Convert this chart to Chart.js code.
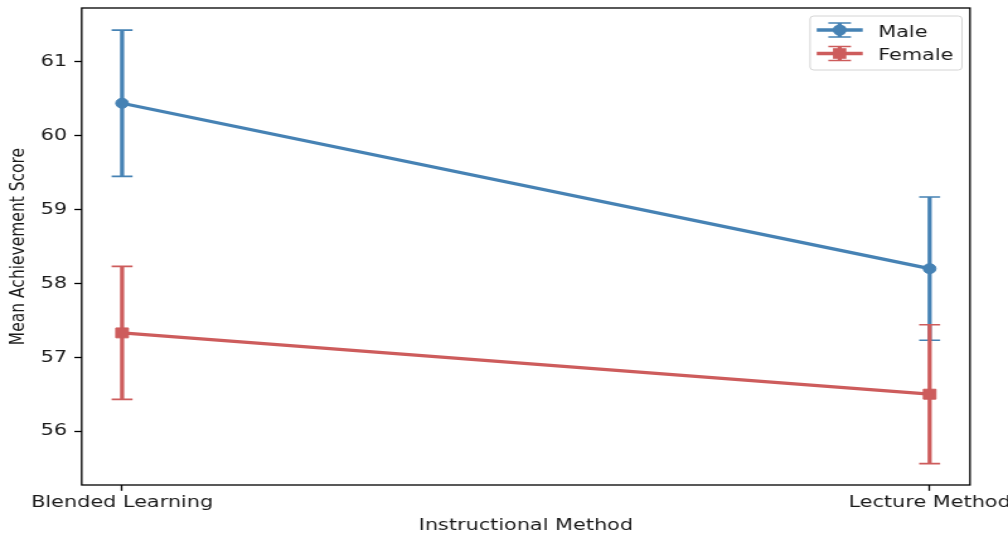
<!DOCTYPE html>
<html>
<head>
<meta charset="utf-8">
<script src="https://cdn.jsdelivr.net/npm/chart.js@4.4.1/dist/chart.umd.min.js"></script>
<style>
  html, body { margin: 0; padding: 0; background: #fff; overflow: hidden; }
  /* the reference is stretched sideways, so draw narrow and widen it */
  #wrap { width: 800px; height: 533px; transform: scaleX(1.26); transform-origin: 0 0; }
</style>
</head>
<body>
<div id="wrap"><canvas id="chart" width="800" height="533"></canvas></div>
<script>
const methods = ['Blended Learning', 'Lecture Method'];
const seriesNames = ['Male', 'Female'];
const maleMeans = [60.44, 58.20];
const maleErr = [0.99, 0.97];
const femaleMeans = [57.33, 56.50];
const femaleErr = [0.90, 0.94];
const yTicks = [56, 57, 58, 59, 60, 61];
const yMin = 55.27;
const yMax = 61.73;

const blue = '#4682b4';
const red = '#cd5c5c';
const textColor = '#1a1a1a';
const tickFont = { family: 'DejaVu Sans', size: 16.5 };

// error bars drawn behind the lines and markers
const errorBars = {
    id: 'errorBars',
    beforeDatasetsDraw(chart) {
        const ctx = chart.ctx;
        const xs = chart.scales.x;
        const ys = chart.scales.y;
        chart.data.datasets.forEach((ds, di) => {
            ds.data.forEach((p, i) => {
                const x = xs.getPixelForValue(p.x);
                const yTop = ys.getPixelForValue(p.y + ds.errors[i]);
                const yBot = ys.getPixelForValue(p.y - ds.errors[i]);
                ctx.save();
                ctx.strokeStyle = ds.borderColor;
                ctx.lineWidth = 3.3;
                ctx.beginPath();
                ctx.moveTo(x, yTop);
                ctx.lineTo(x, yBot);
                ctx.stroke();
                ctx.lineWidth = 1.65;
                ctx.beginPath();
                ctx.moveTo(x - 8.3, yTop);
                ctx.lineTo(x + 8.3, yTop);
                ctx.moveTo(x - 8.3, yBot);
                ctx.lineTo(x + 8.3, yBot);
                ctx.stroke();
                ctx.restore();
            });
        });
    }
};

// full box around the plot, like matplotlib spines
const frame = {
    id: 'frame',
    afterDatasetsDraw(chart) {
        const { ctx, chartArea: a } = chart;
        ctx.save();
        ctx.strokeStyle = '#000';
        ctx.lineWidth = 1.3;
        ctx.strokeRect(a.left, a.top, a.right - a.left, a.bottom - a.top);
        ctx.restore();
    }
};

// legend in the upper right corner, with errorbar handles
const legendBox = {
    id: 'legendBox',
    afterDraw(chart) {
        const ctx = chart.ctx;
        const bx = 642.9, by = 16, bw = 120.6, bh = 54;
        ctx.save();
        ctx.fillStyle = 'rgba(255,255,255,0.8)';
        ctx.strokeStyle = '#d4d4d4';
        ctx.lineWidth = 1;
        ctx.beginPath();
        ctx.roundRect(bx, by, bw, bh, 3);
        ctx.fill();
        ctx.stroke();

        const rows = [30, 53.5];
        chart.data.datasets.forEach((ds, i) => {
            const cy = rows[i];
            const cx = 666.4;
            ctx.strokeStyle = ds.borderColor;
            ctx.fillStyle = ds.borderColor;
            ctx.lineWidth = 3.3;
            ctx.beginPath();
            ctx.moveTo(648.2, cy);
            ctx.lineTo(684.7, cy);
            ctx.moveTo(cx, cy - 7);
            ctx.lineTo(cx, cy + 7);
            ctx.stroke();
            ctx.lineWidth = 1.65;
            ctx.beginPath();
            ctx.moveTo(cx - 9, cy - 7);
            ctx.lineTo(cx + 9, cy - 7);
            ctx.moveTo(cx - 9, cy + 7);
            ctx.lineTo(cx + 9, cy + 7);
            ctx.stroke();
            if (ds.pointStyle === 'circle') {
                ctx.beginPath();
                ctx.arc(cx, cy, 5.5, 0, Math.PI * 2);
                ctx.fill();
            } else {
                ctx.fillRect(cx - 5.3, cy - 5.3, 10.6, 10.6);
            }
            ctx.fillStyle = textColor;
            ctx.font = '16.5px "DejaVu Sans"';
            ctx.textAlign = 'left';
            ctx.textBaseline = 'alphabetic';
            ctx.fillText(ds.label, 697, cy + 6.8);
        });
        ctx.restore();
    }
};

const ctx = document.getElementById('chart');

new Chart(ctx, {
    type: 'line',
    data: {
        datasets: [
            {
                label: seriesNames[0],
                data: maleMeans.map((v, i) => ({ x: i, y: v })),
                errors: maleErr,
                borderColor: blue,
                backgroundColor: blue,
                borderWidth: 3.3,
                pointStyle: 'circle',
                pointRadius: 5,
                pointBorderWidth: 1,
                pointBackgroundColor: blue,
                pointBorderColor: blue
            },
            {
                label: seriesNames[1],
                data: femaleMeans.map((v, i) => ({ x: i, y: v })),
                errors: femaleErr,
                borderColor: red,
                backgroundColor: red,
                borderWidth: 3.3,
                pointStyle: 'rect',
                pointRadius: 7,
                pointBorderWidth: 1,
                pointBackgroundColor: red,
                pointBorderColor: red
            }
        ]
    },
    options: {
        responsive: false,
        devicePixelRatio: 1,
        animation: false,
        events: [],
        layout: { padding: { left: 0, top: 8, right: 30.16, bottom: 0 } },
        plugins: {
            legend: { display: false },
            tooltip: { enabled: false }
        },
        scales: {
            x: {
                type: 'linear',
                min: -0.05,
                max: 1.05,
                border: { display: false },
                grid: { drawOnChartArea: false, drawTicks: true, tickLength: 5.8, tickColor: '#000', tickWidth: 1.3 },
                ticks: {
                    font: tickFont,
                    color: textColor,
                    padding: 2,
                    maxRotation: 0,
                    autoSkip: false,
                    callback: (v) => methods[Math.round(v)]
                },
                afterBuildTicks: (s) => { s.ticks = methods.map((m, i) => ({ value: i })); },
                afterFit: (s) => { s.height = 48; s.paddingLeft = 0; s.paddingRight = 0; },
                title: {
                    display: true,
                    text: 'Instructional Method',
                    font: { family: 'DejaVu Sans', size: 16.5 },
                    color: textColor,
                    padding: { top: 0, bottom: -2.9 }
                }
            },
            y: {
                type: 'linear',
                min: yMin,
                max: yMax,
                border: { display: false },
                grid: { drawOnChartArea: false, drawTicks: true, tickLength: 5.8, tickColor: '#000', tickWidth: 1.3 },
                ticks: {
                    font: tickFont,
                    color: textColor,
                    padding: 5.8
                },
                afterBuildTicks: (s) => { s.ticks = yTicks.map(v => ({ value: v })); },
                afterFit: (s) => { s.width = 64.84; s.paddingTop = 0; s.paddingBottom = 0; },
                title: {
                    display: true,
                    text: 'Mean Achievement Score',
                    font: { family: 'DejaVu Sans', size: 15.5 },
                    color: textColor,
                    padding: { top: 5.5, bottom: 0 }
                }
            }
        }
    },
    plugins: [errorBars, frame, legendBox]
});
</script>
</body>
</html>
